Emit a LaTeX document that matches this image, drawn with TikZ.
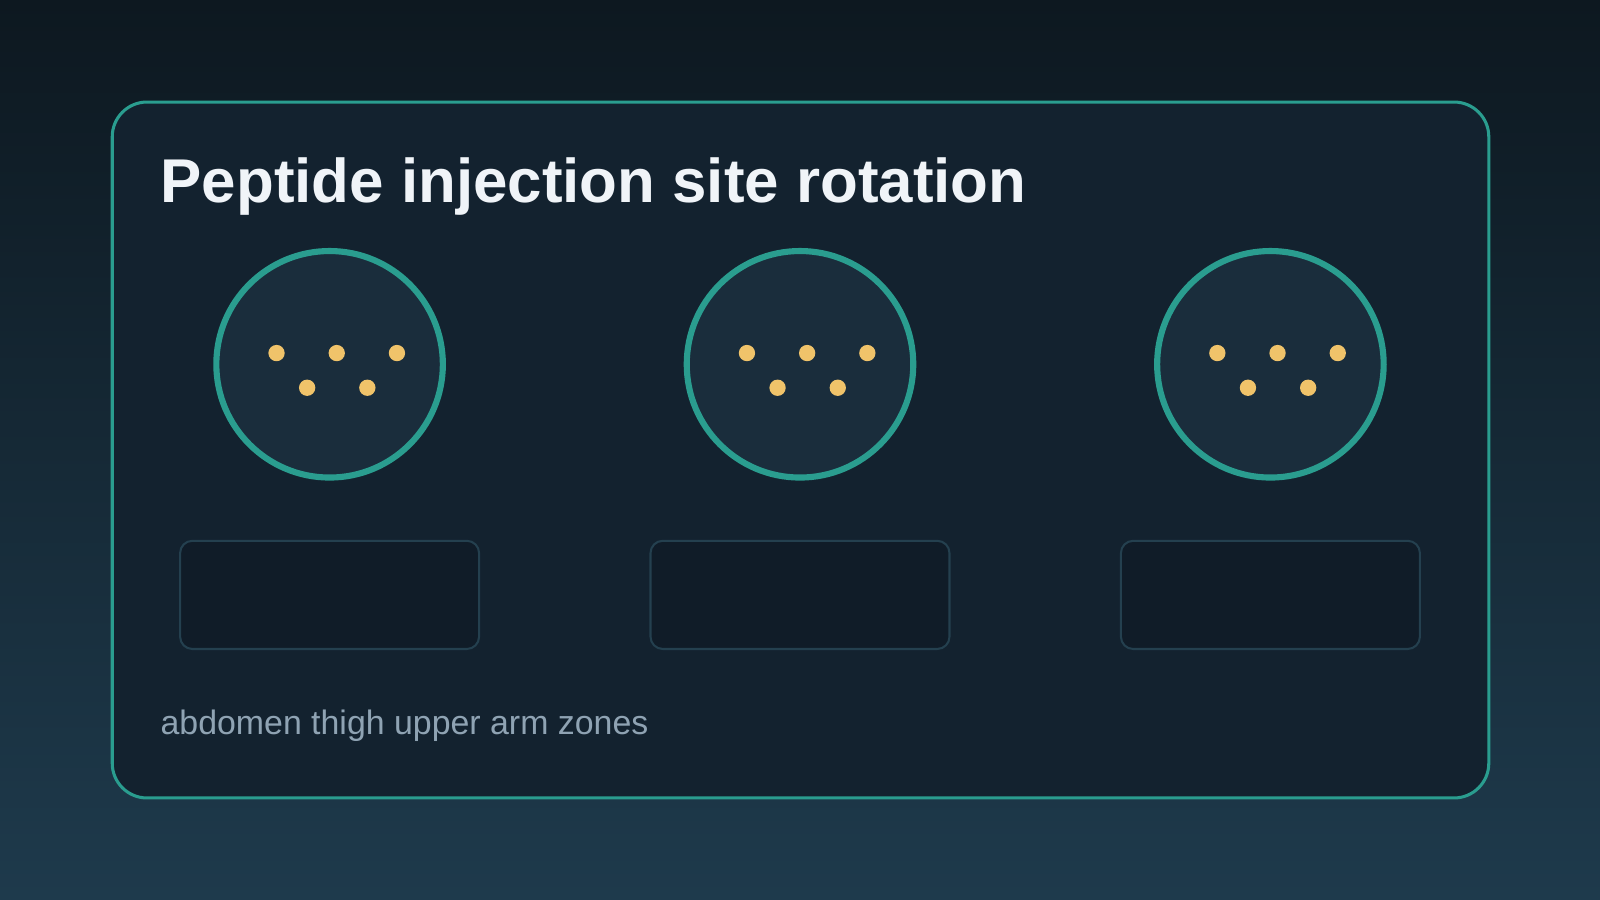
\documentclass[tikz,border=0pt]{standalone}
\usepackage{fontspec}
\setmainfont{Liberation Sans}
\definecolor{bgtop}{HTML}{0D1820}
\definecolor{bgbot}{HTML}{1E3A4C}
\definecolor{teal}{HTML}{2A9D8F}
\definecolor{card}{HTML}{13222F}
\definecolor{circ}{HTML}{1A2D3C}
\definecolor{dot}{HTML}{F0C36A}
\definecolor{boxl}{HTML}{24404F}
\definecolor{boxf}{HTML}{101C28}
\definecolor{ttl}{HTML}{F0F4F8}
\definecolor{sub}{HTML}{8FA3B3}
\begin{document}
\begin{tikzpicture}[x=0.5pt,y=-0.5pt,
  site/.style={circle,draw=teal,line width=3pt,fill=circ,minimum size=222*0.5pt,inner sep=0},
  spot/.style={circle,fill=dot,minimum size=8pt,inner sep=0},
  slot/.style={draw=boxl,line width=1pt,fill=boxf,rounded corners=6pt,minimum width=293*0.5pt,minimum height=106*0.5pt,inner sep=0}]
\useasboundingbox (0,0) rectangle (1568,882);
\shade[top color=bgtop,bottom color=bgbot] (0,0) rectangle (1568,882);
\draw[teal,line width=1.5pt,fill=card,rounded corners=17pt] (110,100) rectangle (1459,782);
\node[anchor=base west,text=ttl,font=\bfseries\fontsize{30.3}{36}\selectfont,inner sep=0] (title) at (157,198) {Peptide injection site rotation};
\foreach \i/\cx in {1/323,2/784,3/1245}{
  \node[site] (c\i) at (\cx,357) {};
  \node[spot] (d\i a) at (\cx-52,346) {};
  \node[spot] (d\i b) at (\cx+7,346) {};
  \node[spot] (d\i c) at (\cx+66,346) {};
  \node[spot] (d\i d) at (\cx-22,380) {};
  \node[spot] (d\i e) at (\cx+37,380) {};
  \node[slot] (b\i) at (\cx,583) {};
}
\node[anchor=base west,text=sub,font=\fontsize{16.6}{20}\selectfont,inner sep=0] (foot) at (157,720) {abdomen thigh upper arm zones};
\end{tikzpicture}
\end{document}
